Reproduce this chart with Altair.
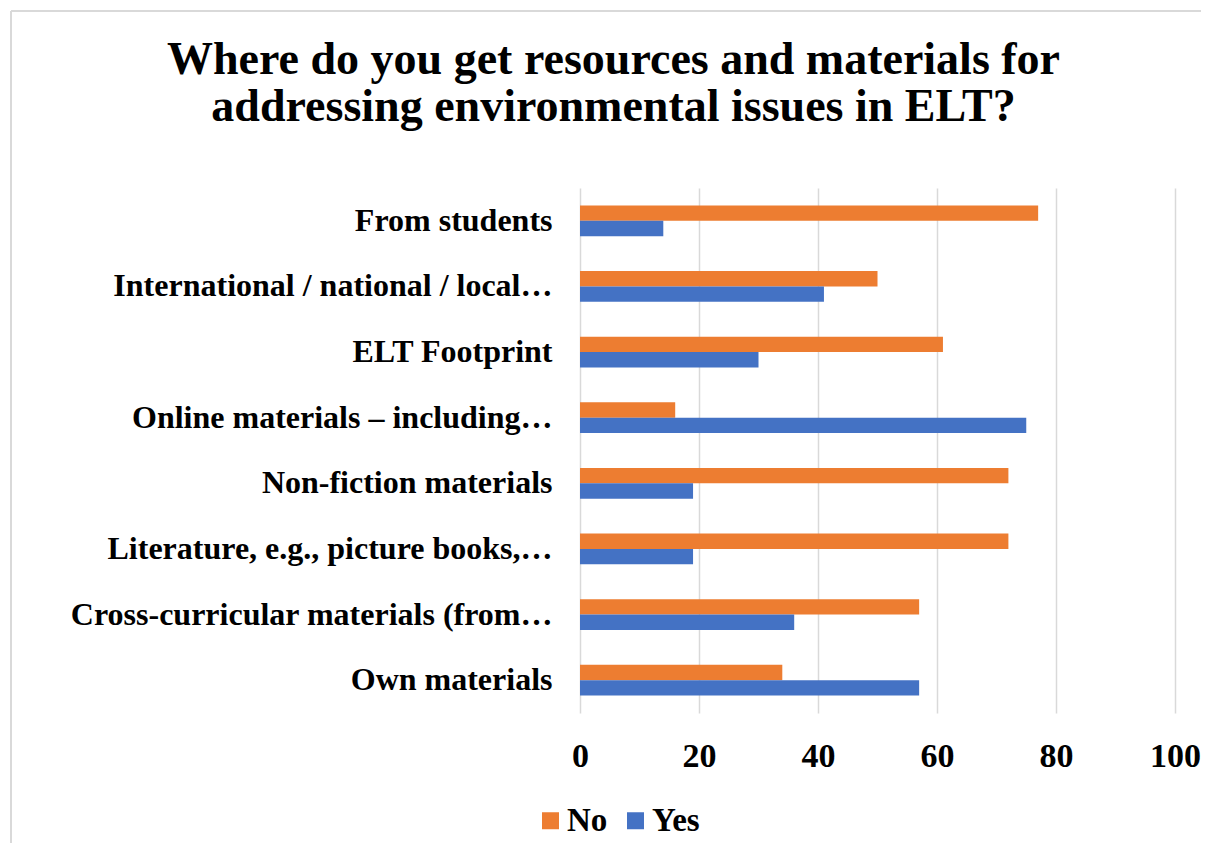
import altair as alt
import pandas as pd

categories = [
    "From students",
    "International / national / local…",
    "ELT Footprint",
    "Online materials – including…",
    "Non-fiction materials",
    "Literature, e.g., picture books,…",
    "Cross-curricular materials (from…",
    "Own materials",
]
no_vals = [77, 50, 61, 16, 72, 72, 57, 34]
yes_vals = [14, 41, 30, 75, 19, 19, 36, 57]
series = ["No", "Yes"]
colors = ["#ED7D31", "#4472C4"]
x_ticks = [0, 20, 40, 60, 80, 100]

rows = []
for c, n, y in zip(categories, no_vals, yes_vals):
    rows.append({"category": c, "series": "No", "value": n})
    rows.append({"category": c, "series": "Yes", "value": y})
df = pd.DataFrame(rows)

FONT = "Liberation Serif"

bars = alt.Chart(df).mark_bar().encode(
    y=alt.Y(
        "category:N",
        sort=categories,
        scale=alt.Scale(paddingInner=0.53, paddingOuter=0.265),
        axis=alt.Axis(
            title=None, ticks=False, domain=False, labelFont=FONT,
            labelFontSize=32, labelFontWeight="bold", labelColor="#000000",
            labelPadding=28, labelLimit=600,
        ),
    ),
    yOffset=alt.YOffset("series:N", sort=series, scale=alt.Scale(domain=series)),
    x=alt.X(
        "value:Q",
        scale=alt.Scale(domain=[0, 100], nice=False),
        axis=alt.Axis(
            title=None, values=x_ticks, ticks=False, domain=False,
            grid=True, gridColor="#D9D9D9", gridWidth=1.5,
            labelFont=FONT, labelFontSize=34, labelFontWeight="bold",
            labelColor="#000000", labelPadding=26, labelFlush=False,
            labelOverlap=False,
        ),
    ),
    color=alt.Color(
        "series:N",
        scale=alt.Scale(domain=series, range=colors),
        legend=alt.Legend(
            title=None, orient="none", direction="horizontal",
            legendX=-46, legendY=616, symbolType="square", symbolSize=289,
            symbolStrokeWidth=0, labelFont=FONT, labelFontSize=33,
            labelFontWeight="bold", labelColor="#000000", labelOffset=0,
            columnPadding=11,
        ),
    ),
)

border_left = alt.Chart(df).mark_rule(color="#D9D9D9", strokeWidth=2).encode(
    x=alt.value(-569), y=alt.value(-177), y2=alt.value(700)
)
border_top = alt.Chart(df).mark_rule(color="#D9D9D9", strokeWidth=2).encode(
    x=alt.value(-569), x2=alt.value(700), y=alt.value(-177)
)

chart = (
    alt.layer(border_left, border_top, bars)
    .properties(
        width=595,
        height=525,
        autosize=alt.AutoSizeParams(type="none"),
        padding={"left": 572, "top": 180, "right": 26, "bottom": 130},
        title=alt.Title(
            ["Where do you get resources and materials for",
             "addressing environmental issues in ELT?"],
            font=FONT, fontSize=46, fontWeight="bold", color="#000000",
            anchor="middle", offset=0, baseline="alphabetic", dx=-264, dy=157,
            lineHeight=47,
        ),
    )
    .configure(background="#FFFFFF")
    .configure_view(strokeWidth=0, stroke="transparent")
)

chart.save("out.html", embed_options={"renderer": "svg", "actions": False})
